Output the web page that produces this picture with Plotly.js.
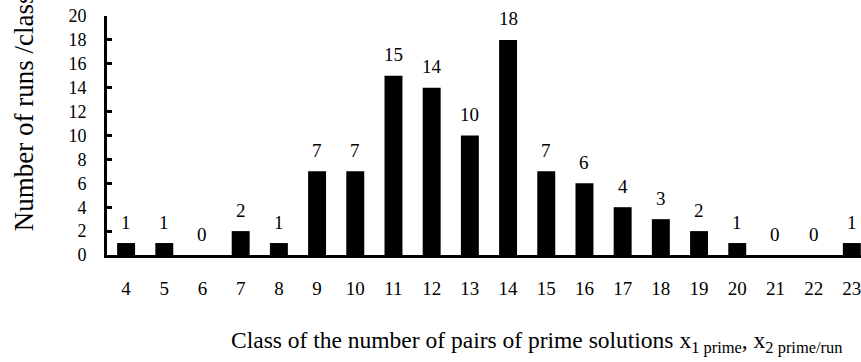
<!DOCTYPE html>
<html>
<head>
<meta charset="utf-8">
<script src="https://cdn.plot.ly/plotly-3.0.1.min.js"></script>
<style>html,body{margin:0;padding:0;background:#fff;}#chart{width:861px;height:362px;}</style>
</head>
<body>
<div id="chart"></div>
<script>
var categories = ["4","5","6","7","8","9","10","11","12","13","14","15","16","17","18","19","20","21","22","23"];
var runs = [1,1,0,2,1,7,7,15,14,10,18,7,6,4,3,2,1,0,0,1];
var yTitle = "Number of runs /class";
var xTitle = "Class of the number of pairs of prime solutions x<sub>1 prime</sub>, x<sub>2 prime/run</sub>";

var font = "'Liberation Serif', 'Times New Roman', serif";

var labels = categories.map(function(c, i){
  return {x: i, y: runs[i], xref: "x", yref: "y", text: String(runs[i]), showarrow: false,
    yanchor: "middle", yshift: 21, font: {family: font, size: 19, color: "#000"}};
});
labels.push({xref: "paper", yref: "paper", x: -0.109, y: 0.09, xanchor: "center", yanchor: "bottom",
  textangle: -90, text: yTitle, showarrow: false, font: {family: font, size: 27, color: "#000"}});
labels.push({xref: "paper", yref: "paper", x: 0.57, y: -0.365, xanchor: "center", yanchor: "middle",
  text: xTitle, showarrow: false, font: {family: font, size: 23.5, color: "#000"}});

var data = [{
  type: "bar", x: categories, y: runs, width: 0.47,
  marker: {color: "#000", line: {width: 0}},
  hoverinfo: "skip"
}];

var layout = {
  width: 861, height: 362,
  margin: {l: 107, r: 0, t: 16, b: 107, pad: 0},
  paper_bgcolor: "#fff", plot_bgcolor: "#fff",
  showlegend: false,
  font: {family: font, color: "#000"},
  xaxis: {
    type: "category", range: [-0.5, 19.24], showgrid: false, zeroline: false,
    showline: true, linecolor: "#000", linewidth: 3,
    ticks: "outside", ticklen: 14, tickcolor: "rgba(0,0,0,0)",
    tickfont: {family: font, size: 19, color: "#000"}
  },
  yaxis: {
    range: [0, 20], dtick: 2, tick0: 0, showgrid: false, zeroline: false,
    showline: true, linecolor: "#000", linewidth: 3,
    ticks: "inside", ticklen: 5, tickwidth: 3, tickcolor: "#000",
    ticklabelstandoff: 14,
    tickfont: {family: font, size: 18, color: "#000"}
  },
  annotations: labels
};

Plotly.newPlot("chart", data, layout, {staticPlot: true, displayModeBar: false});
</script>
</body>
</html>
